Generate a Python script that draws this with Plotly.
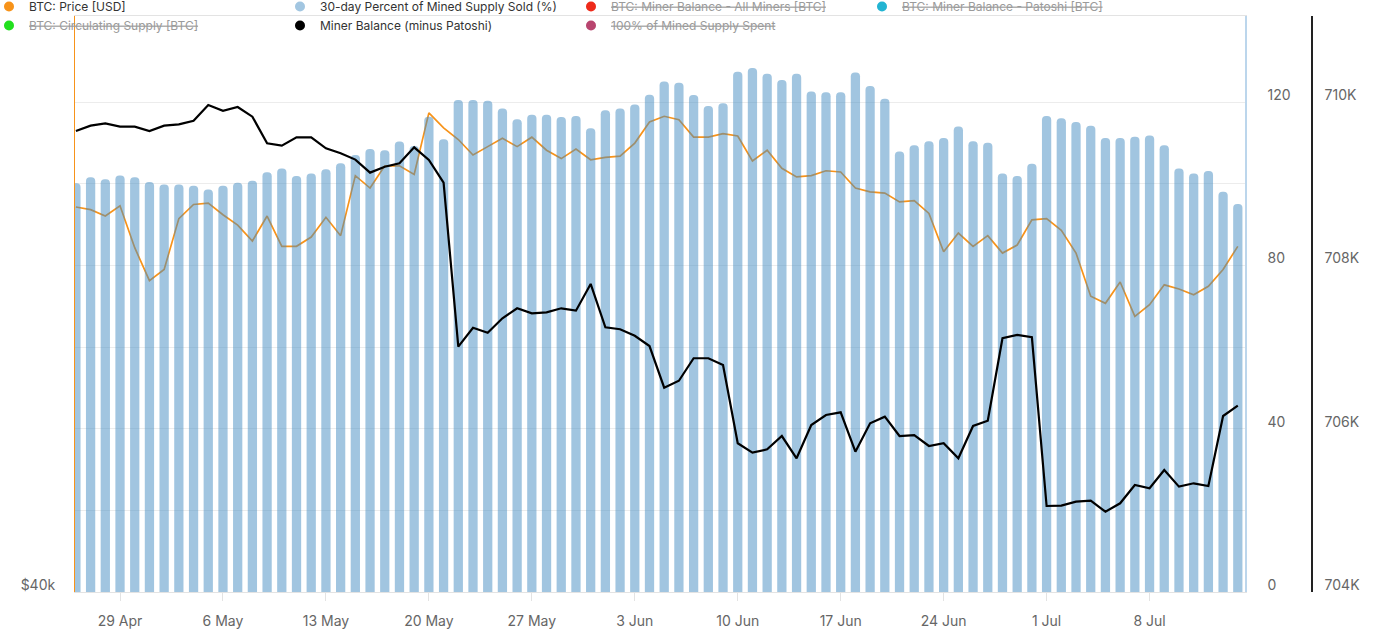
import pandas as pd
import plotly.graph_objects as go

# ---------------- data ----------------
start_date = "2024-04-26"
n_days = 80
dates = pd.date_range(start_date, periods=n_days, freq="D")

pct_sold = [100.1, 101.6, 101.1, 102.0, 101.6, 100.4, 99.8, 99.8, 99.5, 98.6,
            99.5, 100.2, 100.7, 102.8, 103.7, 101.9, 102.5, 103.5, 105.0, 107.0,
            108.5, 108.2, 110.3, 109.2, 116.4, 110.9, 120.5, 120.5, 120.3, 118.4,
            115.8, 116.9, 116.9, 116.3, 116.6, 113.6, 118.0, 118.4, 119.4, 121.8,
            125.0, 124.7, 121.7, 119.0, 119.7, 127.4, 128.3, 126.9, 125.4, 126.9,
            122.6, 122.4, 122.4, 127.2, 123.9, 120.8, 107.9, 109.4, 110.4, 111.2,
            114.0, 110.4, 110.0, 102.5, 101.9, 104.9, 116.6, 116.0, 115.1, 114.2,
            111.2, 111.2, 111.5, 111.8, 109.4, 103.7, 102.5, 103.1, 98.0, 95.0]

btc_price = [64000, 63800, 63300, 64100, 60900, 58500, 59300, 63100, 64200, 64300,
             63400, 62600, 61400, 63300, 61000, 61000, 61700, 63200, 61800, 66500,
             65500, 67300, 67300, 66600, 71800, 70500, 69500, 68200, 68900, 69600,
             68900, 69700, 68600, 67900, 68700, 67800, 68000, 68100, 69200, 71000,
             71500, 71200, 69700, 69700, 70000, 69800, 67700, 68600, 67100, 66400,
             66500, 66900, 66800, 65500, 65200, 65100, 64400, 64500, 63500, 60600,
             62000, 61000, 61800, 60500, 61100, 63000, 63100, 62200, 60500, 57400,
             56900, 58400, 56000, 56800, 58200, 57900, 57500, 58100, 59300, 61000]

miner_balance = [709645, 709710, 709739, 709698, 709698, 709645, 709710, 709727, 709771, 709963,
                 709893, 709939, 709820, 709494, 709465, 709568, 709568, 709433, 709372, 709295,
                 709135, 709208, 709249, 709445, 709290, 709012, 707004, 707236, 707175, 707351,
                 707474, 707413, 707425, 707474, 707445, 707772, 707241, 707217, 707138, 707012,
                 706502, 706587, 706862, 706862, 706780, 705821, 705706, 705747, 705910, 705637,
                 706045, 706167, 706200, 705718, 706066, 706147, 705910, 705922, 705788, 705821,
                 705637, 706033, 706098, 707107, 707147, 707119, 705053, 705057, 705106, 705118,
                 704983, 705086, 705310, 705270, 705494, 705290, 705331, 705298, 706155, 706281]

legend_names = ["BTC: Price [USD]",
                "30-day Percent of Mined Supply Sold (%)",
                "BTC: Miner Balance - All Miners [BTC]",
                "BTC: Miner Balance - Patoshi [BTC]",
                "BTC: Circulating Supply [BTC]",
                "Miner Balance (minus Patoshi)",
                "100% of Mined Supply Spent"]
legend_colors = ["#f7931a", "#a2c6e1", "#ee2a1a", "#22b4d2", "#22e01e", "#000000", "#b8456f"]
legend_hidden = [False, False, True, True, True, False, True]

pct_ticks = [0, 20, 40, 60, 80, 100, 120]
pct_ticktext = ["0", "", "40", "", "80", "", "120"]
bal_ticks = [704000, 706000, 708000, 710000]
bal_ticktext = ["704K", "706K", "708K", "710K"]
price_ticks = [40000]
price_ticktext = ["$40k"]

# ---------------- figure ----------------
FONT = "Inter"
fig = go.Figure()

fig.add_trace(go.Scatter(x=dates, y=btc_price, mode="lines", name=legend_names[0],
                         line=dict(color="#f7931a", width=1.7), yaxis="y",
                         showlegend=False))
fig.add_trace(go.Bar(x=dates, y=pct_sold, name=legend_names[1], yaxis="y2",
                     marker=dict(color="rgb(69,141,195)", line=dict(width=0)),
                     opacity=0.5, width=0.63 * 86400000, showlegend=False))
fig.add_trace(go.Scatter(x=dates, y=miner_balance, mode="lines", name=legend_names[5],
                         line=dict(color="#000000", width=2.2), yaxis="y3",
                         showlegend=False))

# legend entries (circle markers)
for name, col, hid in zip(legend_names, legend_colors, legend_hidden):
    label = ('<span style="color:#9b9b9b"><s>%s</s></span>' % name) if hid else name
    fig.add_trace(go.Scatter(x=[None], y=[None], mode="markers", name=label,
                             marker=dict(color=col, size=10, symbol="circle"),
                             yaxis="y2", showlegend=True, hoverinfo="skip"))

W, H = 1389, 637
L, R, T, B = 75, 77, 16, 45
pw = W - L - R
ph = H - T - B
plot_w = 1170

fig.update_layout(
    width=W, height=H,
    margin=dict(l=L, r=R, t=T, b=B, autoexpand=False),
    paper_bgcolor="white", plot_bgcolor="white",
    font=dict(family=FONT, size=13, color="#666666"),
    barcornerradius=4,
    showlegend=True,
    legend=dict(orientation="h", x=-86 / pw, xanchor="left", y=1 + 24 / ph,
                yanchor="top", entrywidth=246, font=dict(size=12, color="#333333"),
                bgcolor="rgba(0,0,0,0)", itemclick=False, itemdoubleclick=False),
    xaxis=dict(domain=[0, plot_w / pw], type="date",
               range=["2024-04-25 22:32", "2024-07-14 11:45"],
               tick0="2024-04-29", dtick=7 * 86400000, tickformat="%-d %b",
               showgrid=False, showline=True, linecolor="#e3e3e3", mirror=True,
               ticks="outside", ticklen=8, tickcolor="#e3e3e3",
               ticklabelstandoff=8,
               tickfont=dict(size=14, color="#666666"), zeroline=False),
    yaxis=dict(type="log", range=[4.60200, 4.9075], side="left",
               tickvals=price_ticks, ticktext=price_ticktext,
               showgrid=False, zeroline=False, showline=True, linecolor="#f7931a",
               linewidth=1, ticks="", ticklabelstandoff=16, ticklabelshift=-7,
               tickfont=dict(size=14, color="#666666")),
    yaxis2=dict(overlaying="y", side="right", anchor="x", range=[0, 141.06],
                tickvals=pct_ticks, ticktext=pct_ticktext,
                showgrid=True, gridcolor="#ececec", gridwidth=1, zeroline=False,
                showline=True, linecolor="#bcd6ec", linewidth=1.5, ticks="",
                ticklabelstandoff=18, ticklabelshift=-7,
                tickfont=dict(size=14, color="#666666")),
    yaxis3=dict(overlaying="y", side="right", anchor="free", position=1.0,
                range=[704000, 711053], tickvals=bal_ticks, ticktext=bal_ticktext,
                showgrid=False, zeroline=False, showline=True, linecolor="#222222",
                linewidth=1.5, ticks="", ticklabelstandoff=9, ticklabelshift=-7,
                tickfont=dict(size=14, color="#666666")),
)

fig.write_html("out.html", config={"displayModeBar": False},
               post_script="document.body.style.margin='0';document.body.style.overflow='hidden';")
